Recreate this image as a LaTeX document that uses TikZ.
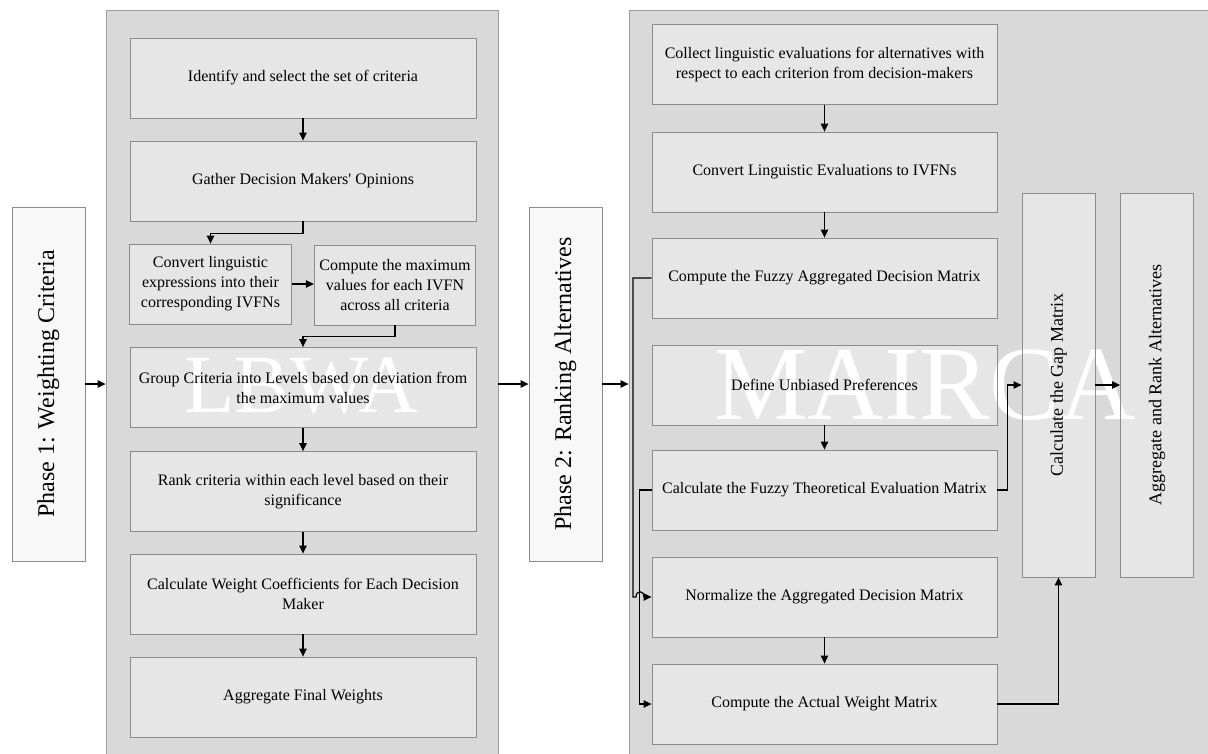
\documentclass[tikz,border=0pt]{standalone}
\usepackage{fontspec}
\setmainfont{Liberation Serif}
\usepackage{graphicx}
\usetikzlibrary{arrows.meta}
\definecolor{panelfill}{HTML}{D9D9D9}
\definecolor{boxfill}{HTML}{E6E6E6}
\definecolor{edgegray}{HTML}{8C8C8C}
\definecolor{phasefill}{HTML}{F8F8F8}
\pgfdeclarelayer{back}
\pgfdeclarelayer{bg}
\pgfdeclarelayer{wm}
\pgfsetlayers{back,bg,wm,main}
\begin{document}
\begin{tikzpicture}[x=0.75pt,y=-0.75pt,
  stepbox/.style={draw=edgegray, line width=0.6pt, align=center, inner sep=2pt, font=\fontsize{12}{15}\selectfont},
  wide/.style={stepbox, minimum width=259.5pt, minimum height=60pt},
  rwide/.style={stepbox, minimum width=258.75pt, minimum height=60pt},
  small/.style={stepbox, minimum width=121pt, minimum height=60pt},
  phase/.style={draw=edgegray, fill=phasefill, line width=0.6pt, minimum width=54.75pt, minimum height=265.5pt, inner sep=0pt, font=\fontsize{18}{22}\selectfont},
  tall/.style={stepbox, minimum width=54.75pt, minimum height=288pt, inner sep=0pt, font=\fontsize{13.5}{16}\selectfont},
  panel/.style={draw=edgegray!85, fill=panelfill, line width=0.6pt, inner sep=0pt},
  wmark/.style={text=white, inner sep=0pt, anchor=base},
  arr/.style={-{Triangle[length=6pt,width=5.5pt]}, line width=0.9pt}]
\useasboundingbox (0,0) rectangle (1208,754);

% panels
\begin{pgfonlayer}{back}
\fill[white] (0,0) rectangle (1208,754);
\node[panel, minimum width=294pt, minimum height=570pt] (lp) at (302,390) {};
\node[panel, minimum width=437.25pt, minimum height=570pt] (rp) at (920.5,390) {};
\end{pgfonlayer}

% phase boxes
\node[phase] (ph1) at (48.5,384) {\rotatebox{90}{Phase 1: Weighting Criteria}};
\node[phase] (ph2) at (565.5,384) {\rotatebox{90}{Phase 2: Ranking Alternatives}};

% left steps
\node[wide] (b1) at (303,78) {Identify and select the set of criteria};
\node[wide] (b2) at (303,181) {Gather Decision Makers\textquotesingle{} Opinions};
\node[small] (b3) at (210.5,284) {Convert linguistic\\expressions into their\\corresponding IVFNs};
\node[small] (b4) at (395,285) {Compute the maximum\\values for each IVFN\\across all criteria};
\node[wide] (b5) at (303,387.5) {Group Criteria into Levels based on deviation from\\the maximum values};
\node[wide] (b6) at (303,491.5) {Rank criteria within each level based on their\\significance};
\node[wide] (b7) at (303,594) {Calculate Weight Coefficients for Each Decision\\Maker};
\node[wide] (b8) at (303,697) {Aggregate Final Weights};

% right steps
\node[rwide] (r1) at (824.5,64.5) {Collect linguistic evaluations for alternatives with\\respect to each criterion from decision-makers};
\node[rwide] (r2) at (824.5,172) {Convert Linguistic Evaluations to IVFNs};
\node[rwide] (r3) at (824.5,278) {Compute the Fuzzy Aggregated Decision Matrix};
\node[rwide] (r4) at (824.5,385) {Define Unbiased Preferences};
\node[rwide] (r5) at (824.5,490) {Calculate the Fuzzy Theoretical Evaluation Matrix};
\node[rwide] (r6) at (824.5,597) {Normalize the Aggregated Decision Matrix};
\node[rwide] (r7) at (824.5,704) {Compute the Actual Weight Matrix};

\node[tall] (gap) at (1058.5,385) {\rotatebox{90}{Calculate the Gap Matrix}};
\node[tall] (agg) at (1157,385) {\rotatebox{90}{Aggregate and Rank Alternatives}};

% box fills below watermarks
\begin{pgfonlayer}{bg}
\foreach \n in {b1,b2,b3,b4,b5,b6,b7,b8,r1,r2,r3,r4,r5,r6,r7,gap,agg}
  \fill[boxfill] (\n.south west) rectangle (\n.north east);
\end{pgfonlayer}

% watermarks
\begin{pgfonlayer}{wm}
\node[wmark, font=\fontsize{62}{62}\selectfont] (wl) at (301.5,412) {LBWA};
\node[wmark, font=\fontsize{79}{79}\selectfont] (wr) at (925,419) {MAIRCA};
\end{pgfonlayer}

% connectors left
\draw[arr] (ph1.east) -- (ph1.east -| lp.west);
\draw[arr] (b1.south) -- (b2.north);
\draw[arr] (b2.south) -- ++(0,12) -| (b3.north);
\draw[arr] (b3.east) -- (b3.east -| b4.west);
\draw[arr] (b4.south) -- ++(0,11) -| (b5.north);
\draw[arr] (b5.south) -- (b6.north);
\draw[arr] (b6.south) -- (b7.north);
\draw[arr] (b7.south) -- (b8.north);
\draw[arr] (ph2.west -| lp.east) -- (ph2.west);
\draw[arr] (ph2.east) -- (ph2.east -| rp.west);

% connectors right
\draw[arr] (r1.south) -- (r2.north);
\draw[arr] (r2.south) -- (r3.north);
\draw[arr] (r4.south) -- (r5.north);
\draw[arr] (r6.south) -- (r7.north);
\draw[arr] (r5.west) -- ++(-12,0) |- (r7.west);
\draw[arr] (r3.west) -- (633,278) -- (633,597) -- (636,597) .. controls (636,590) and (644,590) .. (644,597) -- (r6.west);
\draw[arr] (r5.east) -- ++(10,0) |- (gap.west);
\draw[arr] (gap.east) -- (agg.west);
\draw[arr] (r7.east) -| (gap.south);
\end{tikzpicture}
\end{document}
